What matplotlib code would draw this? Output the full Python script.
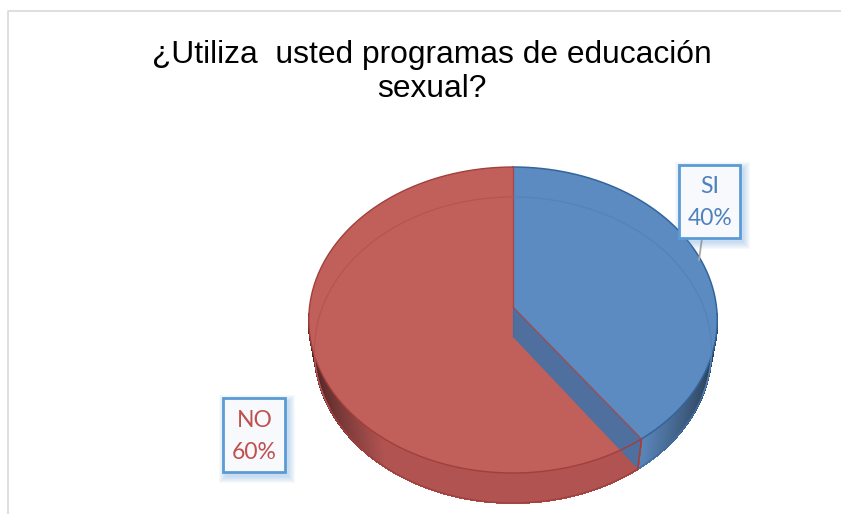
import numpy as np
import matplotlib
matplotlib.use("Agg")
import matplotlib.pyplot as plt
from matplotlib.patches import Polygon, Rectangle
from matplotlib.collections import PolyCollection

title = "¿Utiliza  usted programas de educación\nsexual?"
categories = ["SI", "NO"]
values = [40, 60]
face_colors = ["#5b8bc0", "#c15f5b"]
edge_colors = ["#3f6ea6", "#a23f3c"]
wall_colors = [np.array([0x5b, 0x88, 0xbc]) / 255, np.array([0xb6, 0x56, 0x54]) / 255]
text_colors = ["#4f81bd", "#c0504d"]

# pie geometry in pixels, the ellipse is a perspective view of a circle
cx = 513.0
top_y = 307.0
depth = 30.0
radius = 203.5
bottom_shrink = 0.972
persp = 0.085
squash = -125.8


def project(theta, drop=0.0):
    # theta clockwise from 12 o'clock
    u = np.sin(theta)
    v = np.cos(theta)
    w = 1 + persp * v
    r = radius * bottom_shrink if drop else radius
    return cx + r * u / w, (top_y + squash * v) / w + drop


def rim(t0, t1, drop=0.0, n=200):
    x, y = project(np.linspace(t0, t1, n), drop)
    return np.column_stack([x, y])


fig = plt.figure(figsize=(8.41, 5.14), dpi=100)
ax = fig.add_axes([0, 0, 1, 1])
ax.set_xlim(0, 841)
ax.set_ylim(514, 0)
ax.axis("off")

# chart frame, cut off by the picture on the right and at the bottom
ax.plot([8.5, 8.5, 841], [514, 10.5, 10.5], color="#d9d9d9", lw=1.2)

fracs = np.array(values) / sum(values)
edges = np.concatenate([[0], np.cumsum(fracs)]) * 2 * np.pi

# outer wall, darker towards the left and right ends
quads = []
quad_colors = []
ts = np.linspace(0, 2 * np.pi, 1441)
for t0, t1 in zip(ts[:-1], ts[1:]):
    tm = (t0 + t1) / 2
    if np.cos(tm) > -0.05:
        continue
    xa, ya = project(np.array([t0, t1]))
    xb, yb = project(np.array([t1, t0]), depth)
    quads.append(np.column_stack([np.r_[xa, xb], np.r_[ya, yb]]))
    idx = 0 if tm < edges[1] else 1
    shade = abs(np.sin(tm))
    k = 0.97 - 0.55 * max(shade - 0.6, 0) / 0.4
    quad_colors.append(np.clip(wall_colors[idx] * k, 0, 1))
ax.add_collection(PolyCollection(quads, facecolors=quad_colors, edgecolors=quad_colors, lw=0.8,
                                 antialiaseds=False, zorder=2))

# bottom outline of each slice
for i in range(2):
    ax.plot(*rim(edges[i] + 0.52 * (i == 0) * np.pi, edges[i + 1] - 0.52 * (i == 1) * np.pi, depth).T,
            color=edge_colors[i], lw=1.0, zorder=3)

# red top first, then the cut wall that shows through it, then blue top
ax.add_patch(Polygon(np.vstack([[cx, top_y], rim(edges[1], edges[2])]), closed=True,
                     fc=face_colors[1], ec="none", zorder=4))

cut_x, cut_y = project(edges[1])
low_x, low_y = project(edges[1], depth)
cut = [[cx, top_y], [cut_x, cut_y], [low_x, low_y], [cx, top_y + depth]]
ax.add_patch(Polygon(cut, closed=True, fc="#4f6f9f", ec="none", zorder=5))
ax.plot([cx, cx], [top_y, top_y + depth], color="#456c9e", lw=0.8, zorder=5)
ax.plot([cut_x, low_x], [cut_y, low_y], color="#a23f3c", lw=1.1, zorder=6)

ax.add_patch(Polygon(np.vstack([[cx, top_y], rim(edges[0], edges[1])]), closed=True,
                     fc=face_colors[0], ec="none", zorder=6))

# slice outlines on the top face
ax.plot(*rim(edges[0], edges[1]).T, color="#34649c", lw=1.1, zorder=7)
ax.plot(*rim(edges[1], edges[2]).T, color=edge_colors[1], lw=1.0, zorder=7)
ax.plot([cx, cut_x], [top_y, cut_y], color="#a04a50", lw=0.9, zorder=7)
ax.plot([cx, cx], [top_y, top_y - 140], color="#a8474a", lw=0.9, zorder=7)

# lower rim seen through the top face
ax.plot(*rim(edges[0], 0.62 * np.pi, depth).T, color="#5583b9", lw=0.9, zorder=7)
ax.plot(*rim(1.35 * np.pi, edges[2], depth).T, color="#b45553", lw=0.9, zorder=7)

# leader line of the SI label
ax.plot([702, 699], [238, 260], color="#a6a6a6", lw=1.3, zorder=8)

# label boxes
boxes = [(679.5, 165, 61, 72.5), (223.5, 398, 62, 74)]
for name, val, col, (bx, by, bw, bh) in zip(categories, values, text_colors, boxes):
    # soft shadow
    for g in range(7, 0, -1):
        ax.add_patch(Rectangle((bx + 3 - g, by + 4 - g), bw + 2 * g, bh + 2 * g,
                               fc="#5b9bd5", ec="none", alpha=0.05, zorder=8))
    ax.add_patch(Rectangle((bx, by), bw, bh, fc="#f7f9fd", ec="#5b9bd5", lw=2, zorder=9))
    ax.text(bx + bw / 2, by + bh * 0.30, name, color=col, fontsize=16.5, family="Lato",
            ha="center", va="center", zorder=10)
    ax.text(bx + bw / 2, by + bh * 0.74, f"{val}%", color=col, fontsize=16.5, family="Lato",
            ha="center", va="center", zorder=10)

ax.text(432, 72, title, fontsize=22.9, family="Liberation Sans", color="black",
        ha="center", va="center", linespacing=1.18)

fig.savefig("out.png", dpi=100)
